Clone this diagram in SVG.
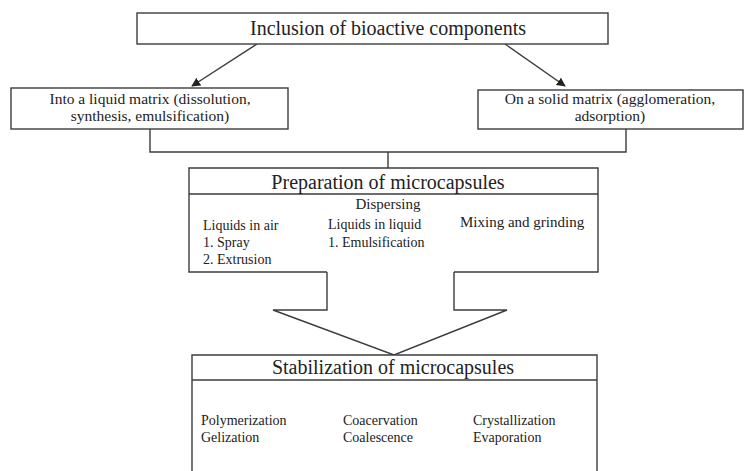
<svg xmlns="http://www.w3.org/2000/svg" width="745" height="471" viewBox="0 0 745 471">
<defs>
<style>
.box{fill:#fff;stroke:#3c3c3c;stroke-width:1.4}
.ln{fill:none;stroke:#3c3c3c;stroke-width:1.4}
.t{font-family:"Liberation Serif","Times New Roman",serif;fill:#222}
.h{font-size:19px;text-anchor:middle}
.m{font-size:15.5px;text-anchor:middle}
.s{font-size:14px}
</style>
<marker id="ah" viewBox="0 0 10 10" refX="9" refY="5" markerWidth="9" markerHeight="9" markerUnits="userSpaceOnUse" orient="auto">
<path d="M0,0 L10,5 L0,10 z" fill="#222"/>
</marker>
</defs>
<rect width="745" height="471" fill="#fff"/>
<g id="connectors">
<line class="ln" x1="257" y1="44" x2="192" y2="86" marker-end="url(#ah)"/>
<line class="ln" x1="505" y1="44" x2="565" y2="86" marker-end="url(#ah)"/>
<path class="ln" d="M150,129 V152 H626 V129 M388,152 V168"/>
<path class="ln" d="M327,272 V310 H273 L394,355 L507,310 H454 V272"/>
</g>
<g id="node-inclusion">
<rect class="box" x="137" y="13" width="471" height="31"/>
<text class="t" x="388" y="35" font-size="20" text-anchor="middle">Inclusion of bioactive components</text>
</g>
<g id="node-liquid">
<rect class="box" x="11" y="88" width="277" height="41"/>
<text class="t m" x="150" y="104">Into a liquid  matrix (dissolution,</text>
<text class="t m" x="150" y="121">synthesis, emulsification)</text>
</g>
<g id="node-solid">
<rect class="box" x="478" y="90" width="265" height="39"/>
<text class="t m" x="610" y="104">On a solid matrix (agglomeration,</text>
<text class="t m" x="610" y="121">adsorption)</text>
</g>
<g id="node-preparation">
<path class="box" d="M327,272 H189 V168 H598 V272 H454"/>
<line class="ln" x1="189" y1="194" x2="598" y2="194"/>
<text class="t" x="388" y="189" font-size="20" text-anchor="middle">Preparation of microcapsules</text>
<text class="t" x="388" y="209" font-size="15" text-anchor="middle">Dispersing</text>
<text class="t s" x="203" y="230">Liquids in air</text>
<text class="t s" x="203" y="247">1. Spray</text>
<text class="t s" x="203" y="264">2. Extrusion</text>
<text class="t s" x="328" y="229">Liquids in liquid</text>
<text class="t s" x="328" y="247">1. Emulsification</text>
<text class="t" x="460" y="227" font-size="15">Mixing and grinding</text>
</g>
<g id="node-stabilization">
<path class="box" d="M192,475 V355 H597 V475"/>
<line class="ln" x1="192" y1="380" x2="597" y2="380"/>
<text class="t" x="393" y="374" font-size="20" text-anchor="middle">Stabilization  of microcapsules</text>
<text class="t s" x="201" y="425">Polymerization</text>
<text class="t s" x="201" y="442">Gelization</text>
<text class="t s" x="343" y="425">Coacervation</text>
<text class="t s" x="343" y="442">Coalescence</text>
<text class="t s" x="473" y="425">Crystallization</text>
<text class="t s" x="473" y="442">Evaporation</text>
</g>
</svg>
